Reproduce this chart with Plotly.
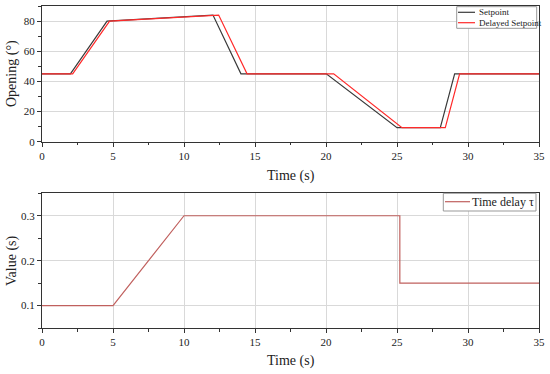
import plotly.graph_objects as go

# Top panel data
t_setpoint = [0, 2.0, 4.58, 12.04, 14.01, 20.02, 25.0, 28.05, 29.06, 35]
v_setpoint = [45, 45, 80, 84, 45, 45, 9.3, 9.3, 45, 45]
t_delayed = [0, 2.16, 4.76, 12.44, 14.44, 20.54, 25.35, 28.4, 29.41, 35]
v_delayed = [45, 45, 80, 84, 45, 45, 9.3, 9.3, 45, 45]

# Bottom panel data
t_tau = [0, 5.0, 10.0, 25.2, 25.2, 35]
v_tau = [0.1, 0.1, 0.3, 0.3, 0.15, 0.15]

x_ticks = [0, 5, 10, 15, 20, 25, 30, 35]

FONT = "Liberation Serif"
W, H = 550, 374
ML, MR, MT, MB = 42, 11, 6, 46
PH = H - MT - MB
PW = W - ML - MR

C_SET = "#3a3a3a"
C_DEL = "#ff2a2a"
C_TAU = "#c0605e"


def py(px):
    return 1 - (px - MT) / PH


def pxp(px):
    return (px - ML) / PW


fig = go.Figure()
fig.add_trace(go.Scatter(x=t_setpoint, y=v_setpoint, mode="lines", name="Setpoint",
                         line=dict(color=C_SET, width=1.2), xaxis="x", yaxis="y"))
fig.add_trace(go.Scatter(x=t_delayed, y=v_delayed, mode="lines", name="Delayed Setpoint",
                         line=dict(color=C_DEL, width=1.2), xaxis="x", yaxis="y"))
fig.add_trace(go.Scatter(x=t_tau, y=v_tau, mode="lines", name="Time delay τ",
                         line=dict(color=C_TAU, width=1.2), xaxis="x2", yaxis="y2"))

axis_common = dict(
    showline=True, linecolor="#333333", linewidth=1.3, mirror=True,
    ticks="outside", ticklen=4, tickwidth=1, tickcolor="#333333",
    showgrid=True, gridcolor="#d9d9d9", gridwidth=1, zeroline=False,
    automargin=False, ticklabeloverflow="allow",
    tickfont=dict(family=FONT, size=11, color="#222222"),
)

minor_x = dict(ticks="outside", ticklen=2.5, dtick=2.5, tick0=0, showgrid=False,
               tickcolor="#333333")

shapes = []
annotations = []

# Axis titles
for text, x, y, ang in [("Time (s)", 0.5, py(176), 0),
                        ("Time (s)", 0.5, py(361), 0),
                        ("Opening (°)", pxp(12), py(74), -90),
                        ("Value (s)", pxp(12), py(261), -90)]:
    annotations.append(dict(text=text, x=x, y=y, xref="paper", yref="paper",
                            showarrow=False, textangle=ang,
                            font=dict(family=FONT, size=14, color="#222222"),
                            xanchor="center", yanchor="middle"))

# Custom compact legends (box + line samples + labels)
def legend_box(x0, y0, x1, y1, entries, fsize):
    shapes.append(dict(type="rect", xref="paper", yref="paper",
                       x0=pxp(x0), x1=pxp(x1), y0=py(y1), y1=py(y0),
                       line=dict(color="#999999", width=1), fillcolor="white", layer="above"))
    for (label, color, ly, lx0, lx1, tx) in entries:
        shapes.append(dict(type="line", xref="paper", yref="paper",
                           x0=pxp(lx0), x1=pxp(lx1), y0=py(ly), y1=py(ly),
                           line=dict(color=color, width=1.2), layer="above"))
        annotations.append(dict(text=label, x=pxp(tx), y=py(ly), xref="paper", yref="paper",
                                showarrow=False, xanchor="left", yanchor="middle",
                                font=dict(family=FONT, size=fsize, color="#222222")))

legend_box(456.7, 6.7, 536.7, 28.3,
           [("Setpoint", C_SET, 12.3, 458, 475, 476.5),
            ("Delayed Setpoint", C_DEL, 22.7, 458, 475, 476.5)], 9)
legend_box(443.3, 193.3, 536, 211,
           [("Time delay τ", C_TAU, 201.7, 445, 470, 469.5)], 12)

fig.update_layout(
    width=W, height=H,
    margin=dict(l=ML, r=MR, t=MT, b=MB, autoexpand=False),
    paper_bgcolor="white", plot_bgcolor="white",
    font=dict(family=FONT, color="#222222"),
    showlegend=False,
    hovermode=False,
    xaxis=dict(axis_common, domain=[0, 1], range=[0, 35], tickvals=x_ticks, anchor="y",
               minor=minor_x),
    yaxis=dict(axis_common, domain=[py(141.7), 1], range=[0, 90], dtick=20, anchor="x",
               minor=dict(ticks="outside", ticklen=2.5, dtick=10, tick0=0, showgrid=False,
                          tickcolor="#333333")),
    xaxis2=dict(axis_common, domain=[0, 1], range=[0, 35], tickvals=x_ticks, anchor="y2",
                minor=minor_x),
    yaxis2=dict(axis_common, domain=[0, py(193.3)], range=[0.05, 0.35], tickvals=[0.1, 0.2, 0.3],
                anchor="x2",
                minor=dict(ticks="outside", ticklen=2.5, dtick=0.05, tick0=0.05, showgrid=False,
                           tickcolor="#333333")),
    shapes=shapes,
    annotations=annotations,
)

fig.write_html("out.html",
               config={"displayModeBar": False},
               post_script="document.body.style.margin='0';document.body.style.overflow='hidden';")
